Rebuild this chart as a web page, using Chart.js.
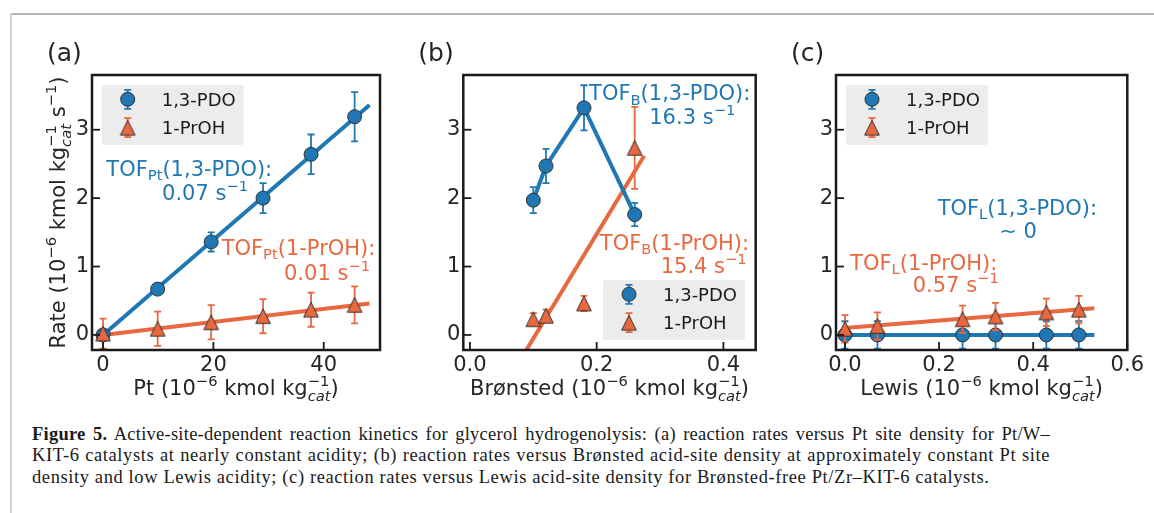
<!DOCTYPE html>
<html><head><meta charset="utf-8">
<script src="https://cdn.jsdelivr.net/npm/chart.js@4.4.1/dist/chart.umd.min.js"></script>
<style>
html,body{margin:0;padding:0;background:#fff;width:1154px;height:513px;overflow:hidden;position:relative}
canvas{position:absolute;top:0}
#frameTop{position:absolute;left:10px;top:13px;width:1144px;height:2px;background:#b4b4b4}
#frameLeft{position:absolute;left:10px;top:13px;width:2px;height:500px;background:#d2d2d2}
#cap{position:absolute;left:32px;top:424px;width:1018px;font-family:"Liberation Serif",serif;font-size:18.5px;letter-spacing:0.6px;line-height:21.3px;color:#1a1a1a}
#cap div{white-space:nowrap;height:21.3px}
#cap .j{text-align:justify;text-align-last:justify;white-space:normal}
#cap .l1{letter-spacing:0.25px}
</style></head>
<body>
<canvas id="ca" width="390" height="420" style="left:0px"></canvas>
<canvas id="cb" width="380" height="420" style="left:390px"></canvas>
<canvas id="cc" width="384" height="420" style="left:770px"></canvas>
<div id="frameTop"></div><div id="frameLeft"></div>
<div id="cap">
<div class="j l1"><b>Figure 5.</b> Active-site-dependent reaction kinetics for glycerol hydrogenolysis: (a) reaction rates versus Pt site density for Pt/W–</div>
<div class="j">KIT-6 catalysts at nearly constant acidity; (b) reaction rates versus Brønsted acid-site density at approximately constant Pt site</div>
<div>density and low Lewis acidity; (c) reaction rates versus Lewis acid-site density for Brønsted-free Pt/Zr–KIT-6 catalysts.</div>
</div>
<script>
// ---------- data ----------
const seriesNames = ['1,3-PDO', '1-PrOH'];
const yTicks = [0, 1, 2, 3];

// (a) Pt site density
const aX = [0, 9.9, 19.6, 29.0, 37.7, 45.6];
const aPDO = [0, 0.67, 1.36, 2.0, 2.64, 3.19];
const aPDOerr = [0.04, 0.04, 0.14, 0.22, 0.29, 0.36];
const aPrOH = [0.02, 0.09, 0.185, 0.275, 0.37, 0.44];
const aPrOHerr = [0.22, 0.25, 0.25, 0.25, 0.25, 0.27];
const aFitX = [0, 48.3];
const aFitPDO = [0, 3.36];
const aFitPrOH = [0, 0.46];
const aXTicks = [0, 20, 40];

// (b) Brønsted site density
const bX = [0.10, 0.12, 0.18, 0.26];
const bPDO = [1.97, 2.47, 3.32, 1.76];
const bPDOerr = [0.19, 0.25, 0.33, 0.17];
const bPrOH = [0.23, 0.28, 0.46, 2.735];
const bPrOHerr = [0.09, 0.09, 0.11, 0.6];
const bFitX = [0.089, 0.275];
const bFitPrOH = [-0.22, 2.62];
const bXTicks = [0.0, 0.2, 0.4];

// (c) Lewis site density
const cX = [0.0, 0.069, 0.25, 0.32, 0.428, 0.497];
const cPDO = [0, 0, 0, 0, 0, 0];
const cPDOerr = [0.2, 0.2, 0.2, 0.2, 0.2, 0.2];
const cPrOH = [0.09, 0.13, 0.23, 0.27, 0.33, 0.37];
const cPrOHerr = [0.2, 0.2, 0.2, 0.2, 0.2, 0.2];
const cFitX = [0, 0.53];
const cFitPDO = [0, 0];
const cFitPrOH = [0.1, 0.39];
const cXTicks = [0.0, 0.2, 0.4, 0.6];

// ---------- styles ----------
const BLUE = '#1f77b4', ORANGE = '#e8683f', INK = '#262626';
const FAM = '"DejaVu Sans"';
const pts = (xs, ys) => xs.map((x, i) => ({x, y: ys[i]}));

function triImg(color) {
  const s = 7.3, W = 18, c = document.createElement('canvas');
  c.width = W; c.height = W;
  const g = c.getContext('2d'), m = W / 2;
  g.beginPath(); g.moveTo(m, m - s); g.lineTo(m + s, m + s); g.lineTo(m - s, m + s); g.closePath();
  g.fillStyle = color; g.fill(); g.lineWidth = 1; g.strokeStyle = '#333'; g.stroke();
  return c;
}
const TRI = triImg(ORANGE);

// ---------- rich text ----------
const SS = 0.7;
const fnt = (sz, it) => (it ? 'italic ' : '') + sz + 'px ' + FAM;
function richW(ctx, parts, F) {
  let w = 0;
  for (const p of parts) {
    if (typeof p === 'string') { ctx.font = fnt(F); w += ctx.measureText(p).width; }
    else {
      let a = 0, b = 0;
      if (p.sup) { ctx.font = fnt(F * SS); a = ctx.measureText(p.sup).width; }
      if (p.sub) { ctx.font = fnt(F * SS, p.it); b = ctx.measureText(p.sub).width; }
      w += Math.max(a, b);
    }
  }
  return w;
}
function drawRich(ctx, parts, x, y, F, color, align) {
  const w = richW(ctx, parts, F);
  let cx = align === 'center' ? x - w / 2 : align === 'right' ? x - w : x;
  ctx.fillStyle = color; ctx.textAlign = 'left'; ctx.textBaseline = 'alphabetic';
  for (const p of parts) {
    if (typeof p === 'string') { ctx.font = fnt(F); ctx.fillText(p, cx, y); cx += ctx.measureText(p).width; }
    else {
      let a = 0, b = 0; const both = p.sup && p.sub;
      if (p.sup) { ctx.font = fnt(F * SS); ctx.fillText(p.sup, cx, y - F * 0.42); a = ctx.measureText(p.sup).width; }
      if (p.sub) { ctx.font = fnt(F * SS, p.it); ctx.fillText(p.sub, cx, y + F * (both ? 0.3 : 0.2)); b = ctx.measureText(p.sub).width; }
      cx += Math.max(a, b);
    }
  }
}
const KG = {sup: '−1', sub: 'cat', it: true};

// ---------- plugin ----------
const deco = {
  id: 'deco',
  beforeDatasetDraw(chart, args) {
    const ds = chart.data.datasets[args.index];
    if (!ds.err) return;
    const xs = chart.scales.x, ys = chart.scales.y, ctx = chart.ctx, a = chart.chartArea;
    ctx.save();
    ctx.beginPath(); ctx.rect(a.left, a.top, a.right - a.left, a.bottom - a.top); ctx.clip();
    ctx.strokeStyle = ds.errColor; ctx.lineWidth = 1.8;
    ds.data.forEach((p, i) => {
      const e = ds.err[i];
      const px = xs.getPixelForValue(p.x), y1 = ys.getPixelForValue(p.y + e), y0 = ys.getPixelForValue(p.y - e);
      ctx.beginPath();
      ctx.moveTo(px, y1); ctx.lineTo(px, y0);
      ctx.moveTo(px - 3.5, y1); ctx.lineTo(px + 3.5, y1);
      ctx.moveTo(px - 3.5, y0); ctx.lineTo(px + 3.5, y0);
      ctx.stroke();
    });
    ctx.restore();
  },
  afterDatasetsDraw(chart) {
    const o = chart.options.plugins.deco, ctx = chart.ctx, a = chart.chartArea;
    const xs = chart.scales.x, ys = chart.scales.y;
    ctx.save();
    // ticks (inward)
    ctx.strokeStyle = '#1a1a1a'; ctx.lineWidth = 1.8;
    xs.ticks.forEach(t => { const px = xs.getPixelForValue(t.value); ctx.beginPath(); ctx.moveTo(px, a.bottom); ctx.lineTo(px, a.bottom - 8); ctx.stroke(); });
    ys.ticks.forEach(t => { const py = ys.getPixelForValue(t.value); ctx.beginPath(); ctx.moveTo(a.left, py); ctx.lineTo(a.left + 8, py); ctx.stroke(); });
    // frame
    ctx.lineWidth = 2.5; ctx.strokeRect(a.left, a.top, a.right - a.left, a.bottom - a.top);
    // annotations
    o.notes.forEach(n => drawRich(ctx, n.parts, xs.getPixelForValue(n.x), ys.getPixelForValue(n.y), 21, n.color, 'left'));
    // legend
    const L = o.legend;
    const bx = L.right ? a.right - L.dx - 142 : a.left + L.dx;
    const by = L.bottom ? a.bottom - L.dy - 60 : a.top + L.dy;
    ctx.fillStyle = '#ececec';
    ctx.beginPath(); ctx.roundRect(bx, by, 142, 60, 3); ctx.fill();
    const mx = bx + 26;
    [[by + 14.3, BLUE], [by + 42.7, ORANGE]].forEach(([cy, col], i) => {
      ctx.strokeStyle = col; ctx.lineWidth = 1.8;
      ctx.beginPath(); ctx.moveTo(mx, cy - 9.5); ctx.lineTo(mx, cy + 9.5);
      ctx.moveTo(mx - 3.5, cy - 9.5); ctx.lineTo(mx + 3.5, cy - 9.5);
      ctx.moveTo(mx - 3.5, cy + 9.5); ctx.lineTo(mx + 3.5, cy + 9.5); ctx.stroke();
      if (i === 0) {
        ctx.beginPath(); ctx.arc(mx, cy, 7, 0, Math.PI * 2); ctx.fillStyle = BLUE; ctx.fill();
        ctx.lineWidth = 1; ctx.strokeStyle = '#333'; ctx.stroke();
      } else {
        ctx.drawImage(TRI, mx - 9, cy - 9);
      }
      ctx.font = fnt(18); ctx.fillStyle = '#1a1a1a'; ctx.textAlign = 'left'; ctx.textBaseline = 'alphabetic';
      ctx.fillText(seriesNames[i], bx + 60, cy + 6.6);
    });
    // panel title
    ctx.font = fnt(25); ctx.fillStyle = INK; ctx.textAlign = 'left'; ctx.textBaseline = 'alphabetic';
    ctx.fillText(o.title, a.left - 45, 61);
    // x label
    drawRich(ctx, o.xlabel, (a.left + a.right) / 2, 395, 21, INK, 'center');
    // y label
    if (o.ylabel) {
      ctx.save(); ctx.translate(a.left - 27, (a.top + a.bottom) / 2); ctx.rotate(-Math.PI / 2);
      drawRich(ctx, o.ylabel, 0, 0, 21, INK, 'center'); ctx.restore();
    }
    ctx.restore();
  }
};

function makeChart(id, cfg) {
  const datasets = [
    {label: seriesNames[1], data: cfg.prohPts, err: cfg.prohErr, errColor: ORANGE, pointStyle: TRI, pointRadius: 9, showLine: false, order: 0},
    {label: seriesNames[0], data: cfg.pdoPts, err: cfg.pdoErr, errColor: BLUE, pointStyle: 'circle', pointRadius: 7,
      backgroundColor: BLUE, pointBorderColor: '#333', pointBorderWidth: 1, borderColor: BLUE, borderWidth: 4,
      showLine: !!cfg.pdoLine, order: 1}
  ];
  cfg.fits.forEach((f, i) => datasets.push({data: f.data, borderColor: f.color, borderWidth: 4, pointRadius: 0, showLine: true, order: 2 + i}));
  const ax = (ticks, fmt, extra) => Object.assign({
    type: 'linear',
    afterBuildTicks: s => { s.ticks = ticks.map(v => ({value: v})); },
    grid: {display: false, drawTicks: false}, border: {display: false},
    ticks: {font: {family: 'DejaVu Sans', size: 21}, color: INK, maxRotation: 0, autoSkip: false, callback: v => fmt(v)}
  }, extra);
  return new Chart(document.getElementById(id), {
    type: 'scatter',
    data: {datasets},
    plugins: [deco],
    options: {
      responsive: false, animation: false, devicePixelRatio: 1,
      layout: {padding: {left: cfg.pl, right: cfg.pr, top: 75, bottom: 20}},
      plugins: {legend: {display: false}, tooltip: {enabled: false},
        deco: {title: cfg.title, xlabel: cfg.xlabel, ylabel: cfg.ylabel, notes: cfg.notes, legend: cfg.legend}},
      scales: {
        x: ax(cfg.xTicks, cfg.xfmt, {min: cfg.xmin, max: cfg.xmax, afterFit: s => { s.height = 50; }}),
        y: ax(yTicks, v => String(v), {min: -0.22, max: 3.8, afterFit: s => { s.width = 40; }})
      }
    }
  });
}
Chart.defaults.scales.linear.ticks.padding = 3;

makeChart('ca', {
  title: '(a)', pl: 52, pr: 7, xmin: -2, xmax: 50.2, xTicks: aXTicks, xfmt: v => String(v),
  pdoPts: pts(aX, aPDO), pdoErr: aPDOerr, prohPts: pts(aX, aPrOH), prohErr: aPrOHerr,
  fits: [{data: pts(aFitX, aFitPDO), color: BLUE}, {data: pts(aFitX, aFitPrOH), color: ORANGE}],
  xlabel: ['Pt (10', {sup: '−6'}, ' kmol kg', KG, ')'],
  ylabel: ['Rate (10', {sup: '−6'}, ' kmol kg', KG, ' s', {sup: '−1'}, ')'],
  legend: {dx: 9.7, dy: 10},
  notes: [
    {x: 0.6, y: 2.32, color: BLUE, parts: ['TOF', {sub: 'Pt'}, '(1,3-PDO):']},
    {x: 10.7, y: 1.98, color: BLUE, parts: ['0.07 s', {sup: '−1'}]},
    {x: 21.5, y: 1.17, color: ORANGE, parts: ['TOF', {sub: 'Pt'}, '(1-PrOH):']},
    {x: 32.8, y: 0.80, color: ORANGE, parts: ['0.01 s', {sup: '−1'}]}
  ]
});
makeChart('cb', {
  title: '(b)', pl: 33.3, pr: 14.3, xmin: -0.0105, xmax: 0.451, xTicks: bXTicks, xfmt: v => v.toFixed(1),
  pdoPts: pts(bX, bPDO), pdoErr: bPDOerr, pdoLine: true, prohPts: pts(bX, bPrOH), prohErr: bPrOHerr,
  fits: [{data: pts(bFitX, bFitPrOH), color: ORANGE}],
  xlabel: ['Brønsted (10', {sup: '−6'}, ' kmol kg', KG, ')'],
  legend: {dx: 10.7, dy: 10, right: true, bottom: true},
  notes: [
    {x: 0.188, y: 3.43, color: BLUE, parts: ['TOF', {sub: 'B'}, '(1,3-PDO):']},
    {x: 0.283, y: 3.09, color: BLUE, parts: ['16.3 s', {sup: '−1'}]},
    {x: 0.205, y: 1.24, color: ORANGE, parts: ['TOF', {sub: 'B'}, '(1-PrOH):']},
    {x: 0.301, y: 0.905, color: ORANGE, parts: ['15.4 s', {sup: '−1'}]}
  ]
});
makeChart('cc', {
  title: '(c)', pl: 26, pr: 26.7, xmin: -0.019, xmax: 0.6, xTicks: cXTicks, xfmt: v => v.toFixed(1),
  pdoPts: pts(cX, cPDO), pdoErr: cPDOerr, prohPts: pts(cX, cPrOH), prohErr: cPrOHerr,
  fits: [{data: pts(cFitX, cFitPDO), color: BLUE}, {data: pts(cFitX, cFitPrOH), color: ORANGE}],
  xlabel: ['Lewis (10', {sup: '−6'}, ' kmol kg', KG, ')'],
  legend: {dx: 10, dy: 10},
  notes: [
    {x: 0.197, y: 1.75, color: BLUE, parts: ['TOF', {sub: 'L'}, '(1,3-PDO):']},
    {x: 0.328, y: 1.41, color: BLUE, parts: ['∼ 0']},
    {x: 0.011, y: 0.95, color: ORANGE, parts: ['TOF', {sub: 'L'}, '(1-PrOH):']},
    {x: 0.144, y: 0.63, color: ORANGE, parts: ['0.57 s', {sup: '−1'}]}
  ]
});
</script>
</body></html>
